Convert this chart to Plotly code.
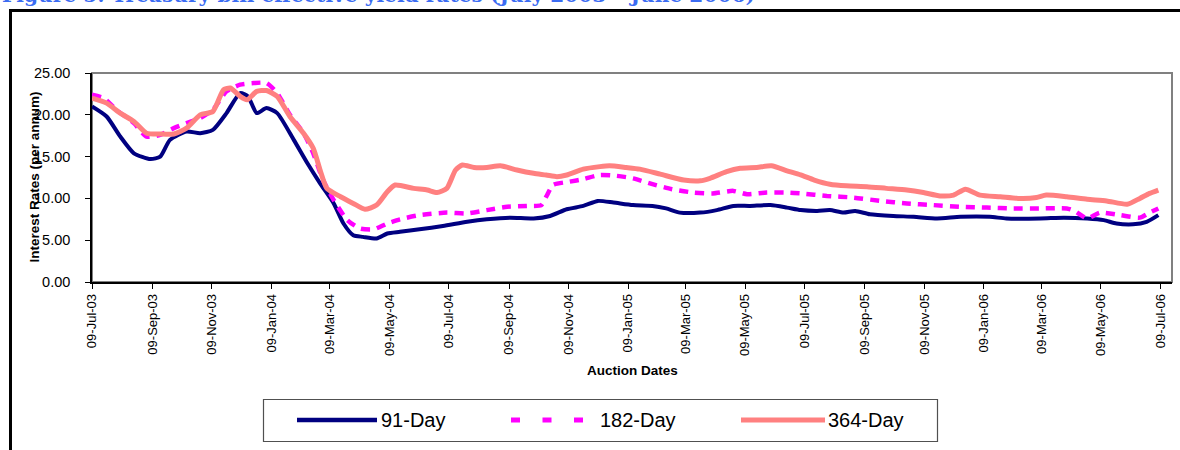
import plotly.graph_objects as go

# Treasury bill effective yield rates, auction dates July 2003 - July 2006
dates_91 = [
    "2003-07-09", "2003-07-24", "2003-08-07", "2003-08-21", "2003-09-07", "2003-09-17",
    "2003-09-27", "2003-10-14", "2003-10-28", "2003-11-10", "2003-11-24", "2003-12-08",
    "2003-12-16", "2003-12-25", "2004-01-04", "2004-01-15", "2004-02-01", "2004-02-15",
    "2004-02-28", "2004-03-13", "2004-03-23", "2004-04-02", "2004-04-12", "2004-04-26",
    "2004-05-07", "2004-05-20", "2004-06-09", "2004-07-03", "2004-07-28", "2004-08-17",
    "2004-09-10", "2004-10-04", "2004-10-21", "2004-11-07", "2004-11-24", "2004-12-09",
    "2004-12-25", "2005-01-14", "2005-02-03", "2005-02-17", "2005-03-03", "2005-03-24",
    "2005-04-10", "2005-04-27", "2005-05-14", "2005-06-04", "2005-06-21", "2005-07-05",
    "2005-07-22", "2005-08-04", "2005-08-18", "2005-08-30", "2005-09-14", "2005-10-08",
    "2005-10-29", "2005-11-22", "2005-12-16", "2006-01-15", "2006-02-01", "2006-03-08",
    "2006-04-01", "2006-04-25", "2006-05-12", "2006-05-25", "2006-06-11", "2006-06-25",
    "2006-07-07",
]
rates_91 = [
    21.0, 19.8, 17.4, 15.4, 14.7, 15.0,
    17.0, 18.0, 17.8, 18.2, 20.2, 22.6,
    22.2, 20.2, 20.8, 20.2, 17.0, 14.2,
    11.8, 9.4, 7.0, 5.6, 5.4, 5.2,
    5.8, 6.0, 6.3, 6.7, 7.2, 7.5,
    7.7, 7.6, 7.9, 8.7, 9.1, 9.7,
    9.5, 9.2, 9.1, 8.8, 8.3, 8.3,
    8.6, 9.1, 9.1, 9.2, 8.9, 8.6,
    8.5, 8.6, 8.3, 8.5, 8.1, 7.9,
    7.8, 7.6, 7.8, 7.8, 7.6, 7.6,
    7.7, 7.6, 7.4, 7.0, 6.9, 7.2,
    8.0,
]

dates_182 = [
    "2003-07-09", "2003-07-21", "2003-08-03", "2003-08-21", "2003-09-03", "2003-09-17",
    "2003-10-01", "2003-10-14", "2003-10-28", "2003-11-10", "2003-11-24", "2003-12-08",
    "2003-12-22", "2004-01-04", "2004-01-15", "2004-01-28", "2004-02-11", "2004-02-21",
    "2004-03-02", "2004-03-13", "2004-03-27", "2004-04-09", "2004-04-23", "2004-05-07",
    "2004-05-20", "2004-06-09", "2004-07-07", "2004-07-28", "2004-08-17", "2004-09-07",
    "2004-09-27", "2004-10-12", "2004-10-17", "2004-10-24", "2004-11-10", "2004-11-24",
    "2004-12-11", "2004-12-28", "2005-01-14", "2005-02-03", "2005-02-23", "2005-03-17",
    "2005-04-06", "2005-04-27", "2005-05-11", "2005-05-31", "2005-06-21", "2005-07-05",
    "2005-08-01", "2005-08-28", "2005-09-25", "2005-10-22", "2005-11-18", "2005-12-16",
    "2006-01-12", "2006-02-08", "2006-03-08", "2006-04-04", "2006-04-12", "2006-04-25",
    "2006-05-08", "2006-05-29", "2006-06-18", "2006-06-28", "2006-07-07",
]
rates_182 = [
    22.4, 22.0, 20.6, 19.0, 17.4, 17.6,
    18.4, 19.0, 19.6, 20.6, 22.8, 23.6,
    23.8, 23.8, 22.6, 20.0, 17.8, 15.4,
    12.2, 9.8, 7.4, 6.4, 6.3, 7.0,
    7.5, 8.0, 8.3, 8.2, 8.6, 9.0,
    9.1, 9.2, 10.2, 11.6, 12.0, 12.3,
    12.8, 12.7, 12.4, 11.7, 11.1, 10.7,
    10.6, 10.9, 10.5, 10.7, 10.7, 10.6,
    10.3, 10.1, 9.7, 9.4, 9.2, 9.0,
    8.9, 8.8, 8.8, 8.8, 8.5, 7.6,
    8.3, 8.0, 7.7, 8.3, 8.8,
]

dates_364 = [
    "2003-07-09", "2003-07-24", "2003-08-07", "2003-08-21", "2003-09-03", "2003-09-17",
    "2003-10-01", "2003-10-14", "2003-10-28", "2003-11-10", "2003-11-21", "2003-11-28",
    "2003-12-08", "2003-12-15", "2003-12-25", "2004-01-04", "2004-01-15", "2004-01-28",
    "2004-02-11", "2004-02-21", "2004-02-28", "2004-03-06", "2004-03-20", "2004-04-02",
    "2004-04-14", "2004-04-26", "2004-05-07", "2004-05-15", "2004-06-03", "2004-06-17",
    "2004-06-27", "2004-07-07", "2004-07-16", "2004-07-23", "2004-08-04", "2004-08-17",
    "2004-08-31", "2004-09-17", "2004-10-04", "2004-10-17", "2004-10-28", "2004-11-07",
    "2004-11-24", "2004-12-11", "2004-12-21", "2005-01-07", "2005-01-21", "2005-02-11",
    "2005-03-07", "2005-03-24", "2005-04-03", "2005-04-20", "2005-05-04", "2005-05-21",
    "2005-06-05", "2005-06-21", "2005-07-05", "2005-07-19", "2005-08-04", "2005-08-21",
    "2005-09-11", "2005-10-01", "2005-10-22", "2005-11-08", "2005-11-25", "2005-12-09",
    "2005-12-21", "2006-01-05", "2006-01-26", "2006-02-15", "2006-03-04", "2006-03-14",
    "2006-04-04", "2006-04-25", "2006-05-15", "2006-06-05", "2006-06-18", "2006-06-28",
    "2006-07-07",
]
rates_364 = [
    22.0, 21.4, 20.2, 19.2, 17.8, 17.7,
    17.7, 18.4, 20.0, 20.4, 23.0, 23.2,
    22.2, 21.8, 22.8, 22.9, 22.2, 19.8,
    17.8, 16.0, 13.4, 11.2, 10.2, 9.4,
    8.7, 9.2, 10.8, 11.6, 11.2, 11.0,
    10.7, 11.2, 13.4, 14.0, 13.7, 13.7,
    13.9, 13.4, 13.0, 12.8, 12.6, 12.8,
    13.5, 13.8, 13.9, 13.7, 13.5, 12.9,
    12.2, 12.1, 12.4, 13.2, 13.6, 13.7,
    13.9, 13.3, 12.8, 12.2, 11.7, 11.5,
    11.4, 11.2, 11.0, 10.7, 10.3, 10.4,
    11.1, 10.4, 10.2, 10.0, 10.1, 10.4,
    10.2, 9.9, 9.7, 9.3, 10.0, 10.6,
    11.0,
]

series_names = ["91-Day", "182-Day", "364-Day"]
tick_dates = [
    "2003-07-09", "2003-09-09", "2003-11-09", "2004-01-09", "2004-03-09", "2004-05-09",
    "2004-07-09", "2004-09-09", "2004-11-09", "2005-01-09", "2005-03-09", "2005-05-09",
    "2005-07-09", "2005-09-09", "2005-11-09", "2006-01-09", "2006-03-09", "2006-05-09",
    "2006-07-09",
]
y_ticks = [0, 5, 10, 15, 20, 25]

NAVY = "#000080"
MAGENTA = "#FF00FF"
SALMON = "#FF8080"
FONT = "Liberation Sans, Arial, sans-serif"

# plot-area geometry in pixels (used to place the paper-referenced decorations)
W, H = 1180, 450
ML, MR, MT, MB = 92, 8, 73, 168
PW, PH = W - ML - MR, H - MT - MB


def px(x):
    return (x - ML) / PW


def py(y):
    return 1 - (y - MT) / PH


fig = go.Figure()
styles = [
    (dates_91, rates_91, NAVY, 4, "solid"),
    (dates_182, rates_182, MAGENTA, 4.5, "9px,7px"),
    (dates_364, rates_364, SALMON, 5, "solid"),
]
for name, (xs, ys, color, width, dash) in zip(series_names, styles):
    fig.add_trace(go.Scatter(
        x=xs, y=ys, mode="lines", name=name, showlegend=False,
        line=dict(color=color, width=width, dash=dash, shape="spline", smoothing=0.6),
        hoverinfo="x+y+name",
    ))

shapes = [
    # grey frame around the plotting area
    dict(type="rect", xref="paper", yref="paper", x0=0, x1=1, y0=0, y1=1,
         line=dict(color="#808080", width=2), layer="below"),
    # outer figure frame
    dict(type="rect", xref="paper", yref="paper", x0=px(10.5), x1=1.08, y0=-1.2, y1=py(10.5),
         line=dict(color="black", width=3), layer="below"),
    # legend box
    dict(type="rect", xref="paper", yref="paper", x0=px(263.5), x1=px(937.5),
         y0=py(441.5), y1=py(399.5), line=dict(color="#505050", width=1.2),
         fillcolor="white", layer="above"),
    # legend samples
    dict(type="line", xref="paper", yref="paper", x0=px(297), x1=px(377), y0=py(420), y1=py(420),
         line=dict(color=NAVY, width=4.5)),
    dict(type="line", xref="paper", yref="paper", x0=px(511), x1=px(583), y0=py(420), y1=py(420),
         line=dict(color=MAGENTA, width=5, dash="9px,22.5px")),
    dict(type="line", xref="paper", yref="paper", x0=px(741), x1=px(825), y0=py(420), y1=py(420),
         line=dict(color=SALMON, width=5)),
]

annotations = [
    dict(text="<b>Figure 5: Treasury bill effective yield rates (July 2003 \u2013 June 2006)</b>",
         xref="paper", yref="paper", x=px(0), y=py(9), xanchor="left", yanchor="bottom",
         showarrow=False,
         font=dict(family="DejaVu Serif, Georgia, serif", size=20.2, color="#3B6CF2"),
         ),
    dict(text="<b>Interest Rates (per annum)</b>", xref="paper", yref="paper",
         x=px(34), y=py(177.5), xanchor="center", yanchor="middle", textangle=-90,
         showarrow=False, font=dict(family=FONT, size=13.5, color="black")),
    dict(text="<b>Auction Dates</b>", xref="paper", yref="paper",
         x=px(632), y=py(370), xanchor="center", yanchor="middle",
         showarrow=False, font=dict(family=FONT, size=13.5, color="black")),
]
for label, x_left in zip(series_names, [379, 598, 826]):
    annotations.append(dict(
        text=label, xref="paper", yref="paper", x=px(x_left), y=py(420),
        xanchor="left", yanchor="middle", showarrow=False,
        font=dict(family=FONT, size=20, color="black"),
    ))

fig.update_layout(
    width=W, height=H,
    margin=dict(l=ML, r=MR, t=MT, b=MB, pad=0),
    paper_bgcolor="white", plot_bgcolor="white",
    font=dict(family=FONT, color="black"),
    shapes=shapes, annotations=annotations,
    showlegend=False,
)
fig.update_xaxes(
    type="date", range=["2003-07-09", "2006-07-21"],
    tickmode="array", tickvals=tick_dates, tickformat="%d-%b-%y", tickangle=-90,
    tickfont=dict(size=13, family=FONT, color="black"),
    ticks="outside", ticklen=5, tickcolor="black", tickwidth=1,
    showline=True, linecolor="black", linewidth=1.5,
    showgrid=False, zeroline=False,
)
fig.update_yaxes(
    range=[0, 25], tickmode="array", tickvals=y_ticks, tickformat=".2f",
    tickfont=dict(size=14.5, family=FONT, color="black"),
    ticks="outside", ticklen=5, tickcolor="black", tickwidth=1,
    ticklabelstandoff=12,
    showline=True, linecolor="black", linewidth=1.5,
    showgrid=False, zeroline=False,
)

fig.write_html("out.html")
